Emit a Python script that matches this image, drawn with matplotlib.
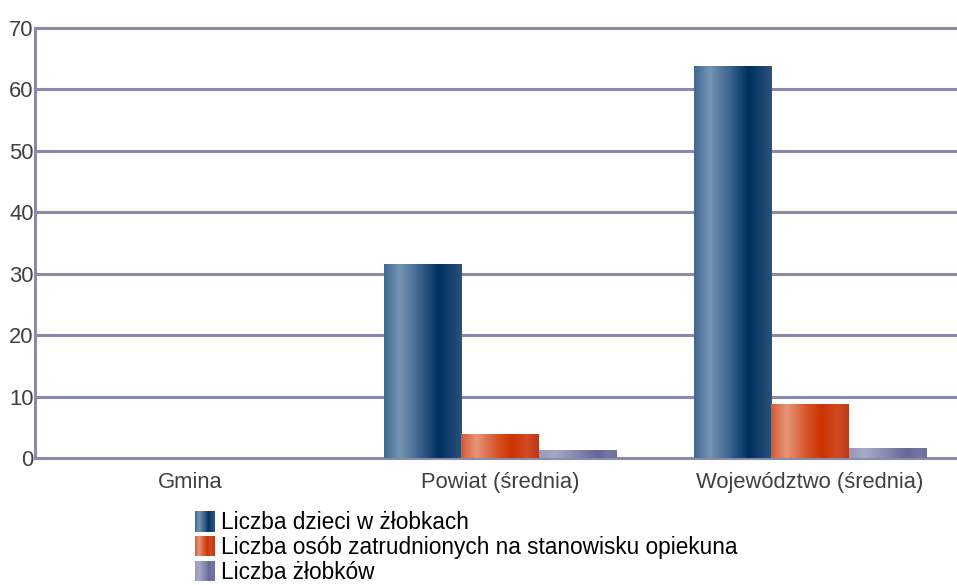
import matplotlib
matplotlib.use("Agg")
import matplotlib.pyplot as plt
import numpy as np
from matplotlib.colors import LinearSegmentedColormap
from matplotlib.legend_handler import HandlerBase
from matplotlib.patches import Rectangle

plt.rcParams['font.family'] = ['Liberation Sans', 'DejaVu Sans']

categories = ["Gmina", "Powiat (średnia)", "Województwo (średnia)"]
series_names = ["Liczba dzieci w żłobkach",
                "Liczba osób zatrudnionych na stanowisku opiekuna",
                "Liczba żłobków"]
dzieci = [0, 31.6, 63.8]
opiekunowie = [0, 3.9, 8.8]
zlobki = [0, 1.3, 1.6]
series_values = [dzieci, opiekunowie, zlobki]
yticks = [0, 10, 20, 30, 40, 50, 60, 70]

grad_stops = [
    [(0.0, "#3f6690"), (0.2, "#7594b3"), (0.45, "#3d6590"), (0.7, "#00305f"), (0.9, "#1c4670"), (1.0, "#2a5480")],
    [(0.0, "#d35a30"), (0.2, "#e6957a"), (0.45, "#d8562a"), (0.65, "#cc3300"), (0.85, "#d14a22"), (1.0, "#b83a18")],
    [(0.0, "#9898bb"), (0.2, "#a8a8c8"), (0.5, "#8585ae"), (0.75, "#666699"), (0.9, "#7474a4"), (1.0, "#7070a0")],
]
cmaps = [LinearSegmentedColormap.from_list(f"g{i}", s) for i, s in enumerate(grad_stops)]

W, H, DPI = 957, 585, 100
FS = 15.8
FS_LEG = 16.3
fig = plt.figure(figsize=(W / DPI, H / DPI), dpi=DPI)
ax = fig.add_axes([35 / W, (585 - 458) / H, 922 / W, (458 - 28) / H])

grid_color = "#8a8aaa"
for y in yticks:
    ax.axhline(y, color=grid_color, lw=2.2, zorder=1, clip_on=False)

x = np.arange(len(categories))
width = 0.25
offsets = [-width, 0, width]
grad = np.linspace(0, 1, 256).reshape(1, -1)
for vals, off, cm in zip(series_values, offsets, cmaps):
    bars = ax.bar(x + off, vals, width, color="none", edgecolor="none", zorder=2)
    for b in bars:
        if b.get_height() <= 0:
            continue
        x0, y0 = b.get_x(), b.get_y()
        im = ax.imshow(grad, cmap=cm, aspect="auto", interpolation="bilinear",
                       extent=(x0, x0 + b.get_width(), y0, y0 + b.get_height()), zorder=3)
        im.set_clip_path(b)

ax.set_xlim(-0.5, -0.5 + 922 / 310)
ax.set_ylim(0, 70)
ax.set_xticks(x)
ax.set_xticklabels(categories, fontsize=FS, color="#404040")
ax.set_yticks(yticks)
ax.set_yticklabels([str(v) for v in yticks], fontsize=FS, color="#404040")
ax.tick_params(axis="both", length=0, pad=1)
ax.tick_params(axis="x", pad=10)
for s in ["top", "right", "bottom"]:
    ax.spines[s].set_visible(False)
ax.spines["left"].set_color(grid_color)
ax.spines["left"].set_linewidth(2.2)
ax.spines["left"].set_zorder(4)


class GradHandler(HandlerBase):
    def __init__(self, cmap):
        super().__init__()
        self.cmap = cmap

    def create_artists(self, legend, orig_handle, xdescent, ydescent, width, height, fontsize, trans):
        n = 20
        arts = []
        for i in range(n):
            r = Rectangle((-xdescent + width * i / n, -ydescent - 1), width / n + 0.3, height + 2,
                          facecolor=self.cmap((i + 0.5) / n), edgecolor="none", transform=trans)
            arts.append(r)
        return arts


handles = [Rectangle((0, 0), 1, 1) for _ in series_names]
hmap = {h: GradHandler(cm) for h, cm in zip(handles, cmaps)}
leg = fig.legend(handles, series_names, handler_map=hmap, loc="lower left",
                 bbox_to_anchor=(195 / W, 1 / H), frameon=False, fontsize=FS_LEG,
                 handlelength=0.85, handleheight=0.8, handletextpad=0.3, labelspacing=0.08,
                 borderaxespad=0, borderpad=0)
for t in leg.get_texts():
    t.set_color("black")

fig.savefig("out.png", dpi=DPI)
